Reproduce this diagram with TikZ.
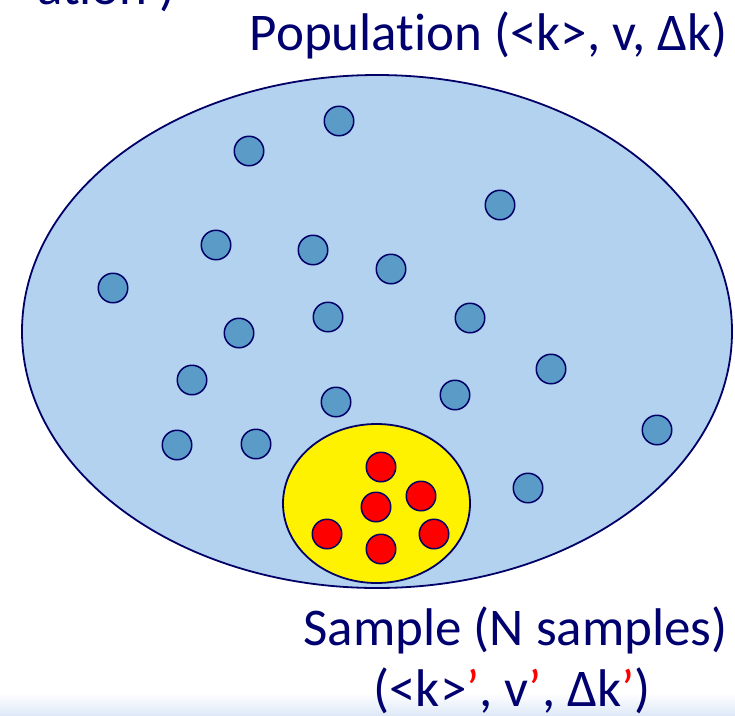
\documentclass[tikz,border=0pt]{standalone}
\usepackage{fontspec}
\setmainfont{Carlito}[Ligatures=NoCommon]
\usepackage{tikz}
\usetikzlibrary{shapes.geometric}
\definecolor{popblue}{RGB}{178, 210, 240}
\definecolor{dotblue}{RGB}{91, 155, 199}
\definecolor{navyline}{RGB}{0, 0, 102}
\definecolor{labelnavy}{RGB}{0, 0, 110}
\definecolor{stripblue}{RGB}{222, 233, 247}

\tikzset{
  popdot/.style={circle, draw=navyline, line width=1.5pt, fill=dotblue, minimum size=29.5pt, inner sep=0pt},
  sampdot/.style={popdot, fill=red},
  biglabel/.style={text=labelnavy, font=\fontsize{53}{62}\selectfont, inner sep=0pt}
}

\begin{document}
\begin{tikzpicture}[x=1pt, y=-1pt]
  \useasboundingbox (0,0) rectangle (735,715);
  \clip (0,0) rectangle (735,715);
  \shade[top color=white, bottom color=stripblue] (0,693) rectangle (735,715);
  % population
  \node[ellipse, draw=navyline, line width=1.8pt, fill=popblue, minimum width=710pt, minimum height=513pt, inner sep=0pt] (pop) at (377,331.5) {};
  \foreach \px/\py [count=\i] in {339/121, 249/151, 500/205, 216/245, 313/250, 391/269,
      113/288, 328/317, 470/318, 239/333, 551/369, 192/380, 455/395, 336/402,
      657/430, 177/445, 256/444, 528/488}
    \node[popdot] (p\i) at (\px,\py) {};
  % sample
  \node[ellipse, draw=navyline, line width=1.8pt, fill=yellow, minimum width=187pt, minimum height=159pt, inner sep=0pt] (samp) at (376.5,503.5) {};
  \foreach \px/\py [count=\i] in {381/467, 421/496, 376/507, 327/534, 434/534, 381/549}
    \node[sampdot] (s\i) at (\px,\py) {};
  % labels
  \node[biglabel, anchor=base east] (cutlabel) at (176,4) {at\kern0pt ion )};
  \node[biglabel, anchor=base east] (poplabel) at (728,50) {Populat\kern0pt ion (<k>, v, Δk)};
  \node[biglabel, anchor=base east] (samplabel) at (728,645) {Sample (N samples)};
  \node[biglabel, anchor=base] (sampstats) at (512,706) {(<k>{\color{red}’}, v{\color{red}’}, Δk{\color{red}’})};
\end{tikzpicture}
\end{document}
